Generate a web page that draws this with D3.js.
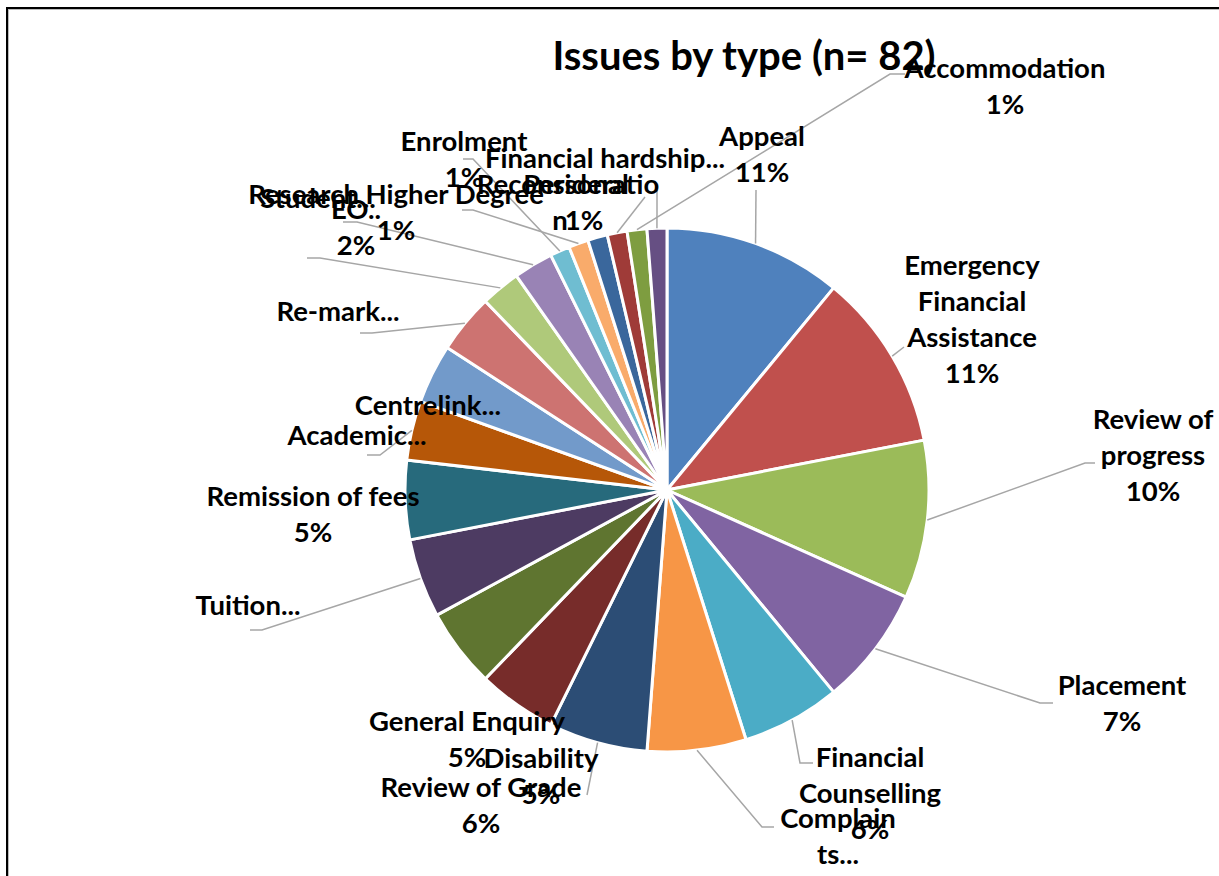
<!DOCTYPE html>
<html>
<head>
<meta charset="utf-8">
<script src="https://cdn.jsdelivr.net/npm/d3@7/dist/d3.min.js"></script>
<style>
  html, body { margin: 0; padding: 0; background: #fff; }
  svg { display: block; font-family: Lato, "Open Sans", sans-serif; font-weight: bold; }
</style>
</head>
<body>
<svg id="chart" width="1219" height="876"></svg>
<script>
// data (n = 82)
const categories = ["Appeal", "Emergency Financial Assistance", "Review of progress", "Placement",
  "Financial Counselling", "Complaints", "Review of Grade", "Disability", "General Enquiry",
  "Tuition", "Remission of fees", "Academic", "Centrelink", "Re-mark", "Student", "EO",
  "Enrolment", "Research Higher Degree", "Personal", "Reconsideration", "Accommodation",
  "Financial hardship"];
const counts = [9, 9, 8, 6, 5, 5, 5, 4, 4, 4, 4, 3, 3, 3, 2, 2, 1, 1, 1, 1, 1, 1];

// label text as printed on the chart ("{p}" = percentage)
const labelLines = [
  ["Appeal", "{p}"], ["Emergency", "Financial", "Assistance", "{p}"], ["Review of", "progress", "{p}"],
  ["Placement", "{p}"], ["Financial", "Counselling", "{p}"], ["Complain", "ts..."],
  ["Review of Grade", "{p}"], ["Disability", "{p}"], ["General Enquiry", "{p}"], ["Tuition..."],
  ["Remission of fees", "{p}"], ["Academic..."], ["Centrelink..."], ["Re-mark..."], ["Student..."],
  ["EO..", "{p}"], ["Enrolment", "{p}"], ["Research Higher Degree", "{p}"], ["Personal", "{p}"],
  ["Reconsideratio", "n"], ["Accommodation", "{p}"], ["Financial hardship..."]
];

const colors = ["#4F81BD", "#C0504D", "#9BBB59", "#8064A2", "#4BACC6", "#F79646",
  "#2C4D75", "#772C2A", "#5F7530", "#4D3B62", "#276A7C", "#B65708",
  "#729ACA", "#CD7371", "#AFC97A", "#9983B5", "#6FBDD1", "#F9AB6B",
  "#3A679C", "#9F3B38", "#7E9D40", "#664F83"];

// label placement (Excel "best fit" positions) and leader line elbows
const labelPos = [
  [762, 135], [972, 264], [1153, 418], [1122, 684], [870, 756], [838, 817],
  [481, 786], [541, 757], [467, 720], [248, 604], [313, 495], [357, 434],
  [428, 404], [338, 310], [318, 197], [356, 208], [464, 140], [396, 193],
  [576, 183], [568, 183], [1005, 67], [605, 157]
];
const lineDx = { 18: [0, 8], 19: [0, -8] };
const leaders = {
  0: [[756, 190]], 1: [[904, 347]], 2: [[1085, 463], [1095, 463]], 3: [[1040, 703], [1053, 703]],
  4: [[800, 763], [813, 763]], 5: [[762, 827], [774, 827]], 6: [[587, 795]],
  9: [[262, 630], [250, 630]], 11: [[380, 455], [367, 455]], 13: [[372, 333], [360, 333]],
  14: [[320, 258], [307, 258]], 15: [[357, 222], [343, 222]], 16: [[473, 159], [463, 159]],
  17: [[473, 210], [462, 210]], 19: [[645, 197]], 20: [[890, 74], [905, 74]], 21: [[657, 190]]
};

const width = 1219, height = 876;
const cx = 667, cy = 490, radius = 262;
const lineH = 36;

const svg = d3.select("#chart");

// frame
svg.append("rect").attr("x", 8.5).attr("y", 9.5).attr("width", width).attr("height", height)
  .attr("fill", "none").attr("stroke", "#bbb").attr("stroke-width", 1);
svg.append("rect").attr("x", 7).attr("y", 8).attr("width", width).attr("height", height)
  .attr("fill", "none").attr("stroke", "#000").attr("stroke-width", 2);

svg.append("text")
  .attr("x", 744).attr("y", 55)
  .attr("text-anchor", "middle").attr("dominant-baseline", "central")
  .attr("font-size", 40).attr("fill", "#000")
  .text("Issues by type (n= 82)");

const total = d3.sum(counts);
const pct = d3.format(".0%");

const pie = d3.pie().sort(null).value(i => counts[i]);
const arcs = pie(d3.range(categories.length));
const arc = d3.arc().innerRadius(0).outerRadius(radius);

const g = svg.append("g").attr("transform", `translate(${cx},${cy})`);

g.selectAll("path.slice")
  .data(arcs)
  .join("path")
  .attr("class", "slice")
  .attr("d", arc)
  .attr("fill", d => colors[d.data])
  .attr("stroke", "#fff")
  .attr("stroke-width", 3)
  .attr("stroke-linejoin", "round");

// leader lines start at the slice's outer edge mid point
const line = d3.line();
arcs.forEach(a => {
  const pts = leaders[a.data];
  if (!pts) return;
  const mid = (a.startAngle + a.endAngle) / 2;
  const start = [cx + radius * Math.sin(mid), cy - radius * Math.cos(mid)];
  svg.append("path")
    .attr("d", line([start, ...pts]))
    .attr("fill", "none")
    .attr("stroke", "#a6a6a6")
    .attr("stroke-width", 1.5);
});

// labels
const labels = svg.append("g").attr("font-size", 27.5).attr("fill", "#000");
arcs.forEach(a => {
  const i = a.data;
  const [lx, ly] = labelPos[i];
  const t = labels.append("text")
    .attr("text-anchor", "middle");
  labelLines[i].forEach((s, k) => {
    t.append("tspan")
      .attr("x", lx + (lineDx[i] ? lineDx[i][k] : 0))
      .attr("y", ly + k * lineH)
      .attr("dominant-baseline", "central")
      .text(s.replace("{p}", pct(counts[i] / total)));
  });
});
</script>
</body>
</html>
